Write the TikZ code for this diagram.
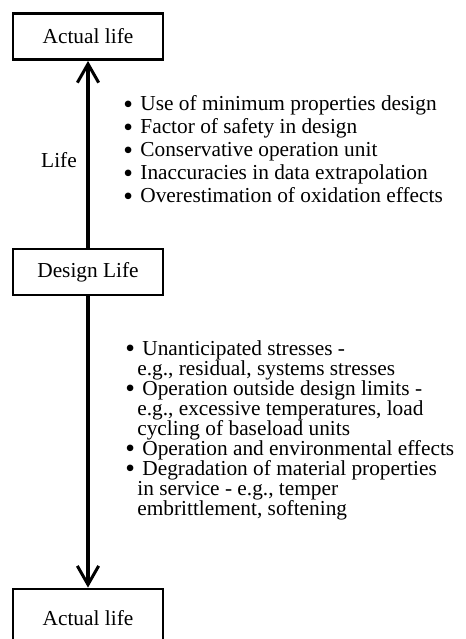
\documentclass[tikz,border=0pt]{standalone}
\usepackage{fontspec}
\setmainfont{Liberation Serif}
\usetikzlibrary{arrows.meta}

\newcommand{\listbullet}{\makebox[9.6pt][l]{\raisebox{-1.6pt}{\fontsize{15.5}{15.5}\selectfont\textbullet}}}

\tikzset{
  lifebox/.style={draw, line width=1.6pt, minimum width=84.4pt, minimum height=25.9pt, inner sep=0pt},
  lifeline/.style={line width=1.7pt, -{Straight Barb[length=10.5pt,width=12pt]}},
  listline/.style={anchor=base west, inner sep=0pt},
}

\begin{document}
\begin{tikzpicture}[x=0.5625pt, y=-0.5625pt, font=\fontsize{12}{14}\selectfont]
  \useasboundingbox (0,0) rectangle (465,639);
  \clip (0,0) rectangle (465,639);
  % the three levels of life
  \node[lifebox] (top) at (88,36.5) {Actual life};
  \node[lifebox] (design) at (88,272) {Design Life};
  \node[lifebox, minimum height=32.6pt] (bottom) at (88,618) {Actual life};
  \draw[lifeline] (design) -- (top);
  \draw[lifeline] (design) -- (bottom);
  \node (lifelabel) at (59,160) {Life};
  % reasons for the longer life
  \foreach \n/\y/\t in {1/111/{Use of minimum properties design},
      2/134/{Factor of safety in design},
      3/157/{Conservative operation unit},
      4/180/{Inaccuracies in data extrapolation},
      5/203/{Overestimation of oxidation effects}}
    \node[listline] (up\n) at (123,\y) {\listbullet\t};
  % reasons for the shorter life
  \foreach \n/\y/\t in {1/355/{Unanticipated stresses -},
      3/395/{Operation outside design limits -},
      6/455/{Operation and environmental effects},
      7/475/{Degradation of material properties}}
    \node[listline] (dn\n) at (125,\y) {\listbullet\t};
  \foreach \n/\y/\t in {2/375/{e.g., residual, systems stresses},
      4/415/{e.g., excessive temperatures, load},
      5/435/{cycling of baseload units},
      8/495/{in service - e.g., temper},
      9/515/{embrittlement, softening}}
    \node[listline] (dn\n) at (137,\y) {\t};
\end{tikzpicture}
\end{document}
